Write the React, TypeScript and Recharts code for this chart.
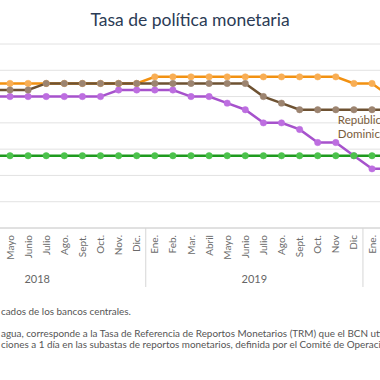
import React from "react";
import { LineChart, Line, XAxis, YAxis, CartesianGrid, LabelList } from "recharts";

// Categories: Ene 2018 .. Feb 2020
const monthKeys = [
  "2018-01","2018-02","2018-03","2018-04","2018-05","2018-06","2018-07","2018-08","2018-09","2018-10","2018-11","2018-12",
  "2019-01","2019-02","2019-03","2019-04","2019-05","2019-06","2019-07","2019-08","2019-09","2019-10","2019-11","2019-12",
  "2020-01","2020-02",
];
const monthLabels = [
  "Ene.","Feb.","Mar.","Abril","Mayo","Junio","Julio","Ago.","Sept.","Oct.","Nov.","Dic.",
  "Ene.","Feb.","Mar.","Abril","Mayo","Junio","Julio","Ago.","Sept.","Oct.","Nov","Dic",
  "Ene.","Feb.",
];
const yearLabels = ["2018", "2019", "2020"];

// Series (percent)
const honduras = [5.5,5.5,5.5,5.5,5.5,5.5,5.5,5.5,5.5,5.5,5.5,5.5, 5.75,5.75,5.75,5.75,5.75,5.75,5.75,5.75,5.75,5.75,5.75,5.5, 5.5,5.0];
const costaRica = [5.0,5.0,5.0,5.0,5.0,5.0,5.0,5.0,5.0,5.0,5.25,5.25, 5.25,5.25,5.0,5.0,4.75,4.5,4.0,4.0,3.75,3.25,3.25,2.75, 2.25,2.25];
const repDominicana = [5.25,5.25,5.25,5.25,5.25,5.25,5.5,5.5,5.5,5.5,5.5,5.5, 5.5,5.5,5.5,5.5,5.5,5.5,5.0,4.75,4.5,4.5,4.5,4.5, 4.5,4.5];
const guatemala = [2.75,2.75,2.75,2.75,2.75,2.75,2.75,2.75,2.75,2.75,2.75,2.75, 2.75,2.75,2.75,2.75,2.75,2.75,2.75,2.75,2.75,2.75,2.75,2.75, 2.75,2.75];

const yTicks = [0,0.5,1,1.5,2,2.5,3,3.5,4,4.5,5,5.5,6,6.5,7];
const seriesLabelLines = ["República", "Dominicana"];
const LABEL_INDEX = 22;

const data = monthKeys.map((k, i) => ({
  key: k,
  hn: honduras[i],
  cr: costaRica[i],
  rd: repDominicana[i],
  gt: guatemala[i],
}));

const FONT = "Lato, 'Open Sans', sans-serif";
const AXIS_Y = 228;
const STEP = 18.1;
const SVG_OFFSET = -100;

const MonthTick = (props: any) => {
  const { x, payload } = props;
  const idx = payload.index ?? monthKeys.indexOf(payload.value);
  const label = monthLabels[idx];
  const month = Number(monthKeys[idx].slice(5));
  const year = monthKeys[idx].slice(0, 4);
  const ty = AXIS_Y + 7;
  const visible = x + SVG_OFFSET > -2;
  return (
    <g>
      {visible && (
        <text
          x={x}
          y={ty}
          dy="0.35em"
          textAnchor="end"
          transform={`rotate(-90, ${x}, ${ty})`}
          fontSize={10}
          fill="#6a6a6a"
          fontFamily={FONT}
        >
          {label}
        </text>
      )}
      {month === 1 && (
        <line x1={x - STEP / 2} x2={x - STEP / 2} y1={AXIS_Y} y2={AXIS_Y + 59} stroke="#d6d6d6" strokeWidth={1} />
      )}
      {month === 6 && yearLabels.includes(year) && (
        <text x={x + STEP / 2} y={AXIS_Y + 51} dy="0.35em" textAnchor="middle" fontSize={11} fill="#666" fontFamily={FONT}>
          {year}
        </text>
      )}
    </g>
  );
};

const SeriesLabel = (p: any) => {
  if (p.index !== LABEL_INDEX) return null;
  return (
    <g>
      <text x={p.x + 2} y={p.y + 14} fontSize={11.5} fill="#7a5c3c" fontFamily={FONT}>
        {seriesLabelLines[0]}
      </text>
      <text x={p.x + 2} y={p.y + 28.5} fontSize={11.5} fill="#7a5c3c" fontFamily={FONT}>
        {seriesLabelLines[1]}
      </text>
    </g>
  );
};

const noteStyle: React.CSSProperties = {
  position: "absolute",
  left: 1,
  whiteSpace: "nowrap",
  fontSize: 9.9,
  lineHeight: "12px",
  color: "#555",
  fontFamily: FONT,
};

export default function App() {
  return (
    <div
      style={{
        position: "fixed",
        left: 0,
        top: 0,
        width: 380,
        height: 380,
        overflow: "hidden",
        background: "#fff",
        fontFamily: FONT,
      }}
    >
      <div style={{ position: "absolute", left: SVG_OFFSET, top: 0 }}>
        <LineChart
          width={510}
          height={380}
          data={data}
          margin={{ top: 44, left: 28.55, right: 10.85, bottom: 92 }}
        >
          <CartesianGrid vertical={false} stroke="#e2e2e2" strokeWidth={1} />
          <YAxis hide domain={[0, 7]} ticks={yTicks} type="number" />
          <XAxis
            dataKey="key"
            interval={0}
            height={60}
            padding={{ left: STEP / 2, right: STEP / 2 }}
            tickLine={false}
            axisLine={{ stroke: "#d0d0d0" }}
            tick={<MonthTick />}
          />
          <Line
            dataKey="hn"
            stroke="#F29111"
            strokeWidth={2.5}
            dot={{ r: 3.2, fill: "#F8AE55", stroke: "#F8AE55", strokeWidth: 0.5 }}
            isAnimationActive={false}
          />
          <Line
            dataKey="cr"
            stroke="#A652CC"
            strokeWidth={2.5}
            dot={{ r: 3.2, fill: "#BD6EE0", stroke: "#BD6EE0", strokeWidth: 0.5 }}
            isAnimationActive={false}
          />
          <Line
            dataKey="rd"
            stroke="#6E5232"
            strokeWidth={2.5}
            dot={{ r: 3.2, fill: "#9C8470", stroke: "#9C8470", strokeWidth: 0.5 }}
            isAnimationActive={false}
          >
            <LabelList dataKey="rd" content={<SeriesLabel />} />
          </Line>
          <Line
            dataKey="gt"
            stroke="#1E9A1E"
            strokeWidth={2.5}
            dot={{ r: 3.2, fill: "#4CC24C", stroke: "#4CC24C", strokeWidth: 0.5 }}
            isAnimationActive={false}
          />
        </LineChart>
      </div>
      <div
        style={{
          position: "absolute",
          left: 0,
          top: 10,
          width: 380,
          textAlign: "center",
          fontSize: 17.5,
          lineHeight: "20px",
          color: "#2b3b55",
          fontFamily: FONT,
        }}
      >
        Tasa de política monetaria
      </div>
      <div style={{ ...noteStyle, top: 305 }}>cados de los bancos centrales.</div>
      <div style={{ ...noteStyle, top: 327 }}>
        agua, corresponde a la Tasa de Referencia de Reportos Monetarios (TRM) que el BCN utiliza como referencia
      </div>
      <div style={{ ...noteStyle, top: 338 }}>
        ciones a 1 día en las subastas de reportos monetarios, definida por el Comité de Operaciones Monetarias
      </div>
    </div>
  );
}
